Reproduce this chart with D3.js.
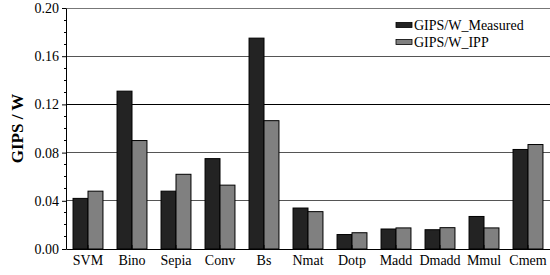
<!DOCTYPE html>
<html><head><meta charset="utf-8">
<script src="https://cdn.jsdelivr.net/npm/d3@7"></script>
<style>body{margin:0;background:#fff}svg{display:block}</style>
</head><body>
<svg id="c" width="550" height="275"></svg>
<script>
const categories = ["SVM","Bino","Sepia","Conv","Bs","Nmat","Dotp","Madd","Dmadd","Mmul","Cmem"];
const measured = [0.042,0.131,0.048,0.075,0.175,0.034,0.012,0.0166,0.016,0.027,0.0826];
const ipp      = [0.048,0.090,0.062,0.053,0.1065,0.031,0.0135,0.0175,0.0177,0.0175,0.0867];
const seriesNames = ["GIPS/W_Measured","GIPS/W_IPP"];
const yTicks = [0.00,0.04,0.08,0.12,0.16,0.20];

const svg = d3.select("#c");
const L = 66, R = 550, T = 8, B = 249;
const font = "'Liberation Serif','Times New Roman',serif";
const x = d3.scaleBand().domain(categories).range([L,R]).paddingInner(0.32).paddingOuter(0.16);
const xs = d3.scaleBand().domain([0,1]).range([0,x.bandwidth()]);
const y = d3.scaleLinear().domain([0,0.20]).range([B,T]);
const colors = ["#232323","#808080"];

// gridlines
svg.append("g").selectAll("line").data(yTicks.filter(d=>d>0)).join("line")
  .attr("x1",L).attr("x2",R).attr("y1",d=>y(d)).attr("y2",d=>y(d))
  .attr("stroke",d=>Math.abs(d-0.12)<1e-9?"#000":(Math.abs(d-0.20)<1e-9?"#777":"#555")).attr("stroke-width",1)
  .attr("shape-rendering","crispEdges");

// bars
const data = categories.map((c,i)=>({c,v:[measured[i],ipp[i]]}));
const g = svg.append("g");
data.forEach(d=>{
  d.v.forEach((v,j)=>{
    g.append("rect").attr("x",x(d.c)+xs(j)).attr("y",y(v))
      .attr("width",xs.bandwidth()).attr("height",B-y(v))
      .attr("fill",colors[j]).attr("stroke","#000").attr("stroke-width",1);
  });
});

// y axis
const yAxis = d3.axisLeft(y).tickValues(yTicks).tickFormat(d3.format(".2f")).tickSize(4).tickSizeOuter(0);
const ya = svg.append("g").attr("transform",`translate(${L},0)`).call(yAxis);
ya.selectAll("text").attr("font-family",font).attr("font-size",14).attr("fill","#000").attr("x",-7);
ya.select(".domain").attr("stroke","#000");
const minor = d3.range(0,0.2001,0.01).filter(v=>Math.abs(v/0.04-Math.round(v/0.04))>1e-6);
svg.append("g").selectAll("line").data(minor).join("line")
  .attr("x1",L-2).attr("x2",L).attr("y1",d=>y(d)).attr("y2",d=>y(d))
  .attr("stroke","#000").attr("shape-rendering","crispEdges");

// x axis
const xAxis = d3.axisBottom(x).tickSize(-4).tickSizeOuter(0);
const xa = svg.append("g").attr("transform",`translate(0,${B})`).call(xAxis);
xa.selectAll("text").attr("font-family",font).attr("font-size",14).attr("fill","#000").attr("y",6);
xa.select(".domain").attr("stroke","#000");

// y title
svg.append("text").attr("transform",`translate(23,${(T+B)/2}) rotate(-90)`)
  .attr("text-anchor","middle").attr("font-family",font).attr("font-weight","bold")
  .attr("font-size",17).text("GIPS / W");

// legend
const lg = svg.append("g");
seriesNames.forEach((n,i)=>{
  const yy = 25 + i*17;
  lg.append("rect").attr("x",396).attr("y",yy-2.5).attr("width",16).attr("height",5)
    .attr("fill",colors[i]).attr("stroke","#000").attr("stroke-width",0.8);
  lg.append("text").attr("x",414).attr("y",yy).attr("dy","0.35em")
    .attr("font-family",font).attr("font-size",14).text(n);
});
</script>
</body></html>
